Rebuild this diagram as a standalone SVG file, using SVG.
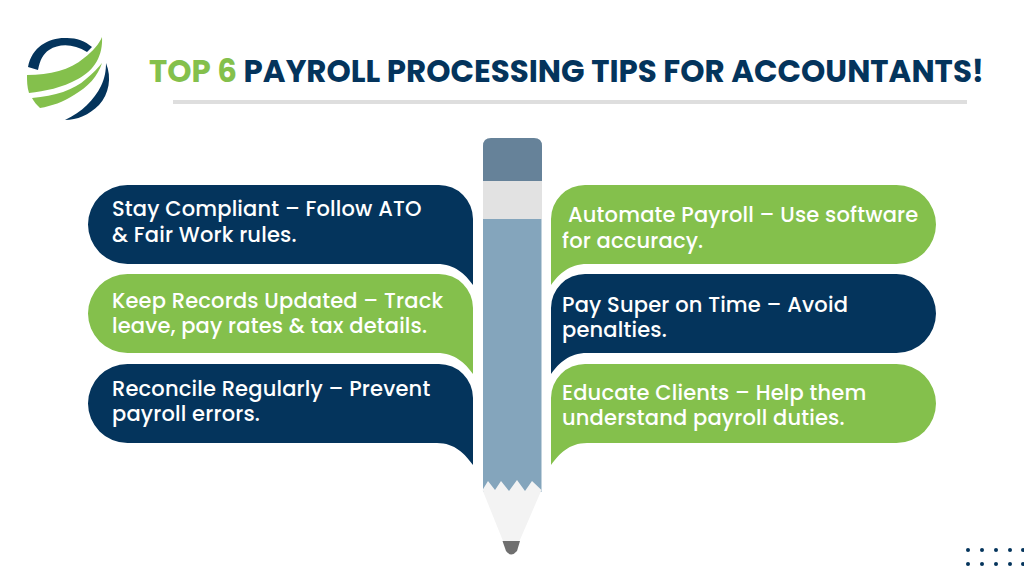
<svg xmlns="http://www.w3.org/2000/svg" width="1024" height="576" viewBox="0 0 1024 576">
<style>
.t{font-family:"Poppins","Inter","Noto Sans",sans-serif;font-size:21px;font-weight:500;letter-spacing:.17px;fill:#fff}
.navy{fill:#04345c}
.green{fill:#84c04c}
.h{font-family:"Poppins","Inter","Noto Sans",sans-serif;font-size:30.900px;font-weight:700}
</style>
<rect width="1024" height="576" fill="#fff"/>
<g id="logo">
<path class="navy" d="M28 67C32 46 50 37 67 38C77 38 85 41 92 47L87 52C74 44 60 43 49 50C43 54 40 60 38 70Z"/>
<path class="green" d="M27 75C50 75 70 70 84 58C93 51 99 44 102 37C103 55 95 70 78 79C62 88 45 91 29 93C27 87 27 81 27 75Z"/>
<path class="green" d="M32 98C55 96 74 90 86 79C93 73 98 68 102 63C98 76 88 87 74 95C63 102 52 106 40 108C37 105 34 102 32 98Z"/>
<path class="navy" d="M106 63C112 78 109 94 99 105C89 115 77 120 65 120C82 112 94 100 101 86C105 78 106 70 106 63Z"/>
</g>
<g id="title">
<text class="h" x="149" y="81.500" fill="#84c04c">TOP 6 <tspan fill="#04345c">PAYROLL PROCESSING TIPS FOR ACCOUNTANTS!</tspan></text>
<rect x="173" y="100" width="794" height="4" fill="#dedede"/>
</g>
<g id="pencil">
<path d="M483 181V146Q483 138 491 138H534Q542 138 542 146V181Z" fill="#668299"/>
<rect x="483" y="181" width="59" height="38" fill="#e2e2e2"/>
<path d="M483 219H541.500V492H483Z" fill="#84a5bc"/>
<path d="M482.500 490L488 481L495 490L501 481L509 491L517 480L525 491L532 481L541.500 490L519.500 541H503Z" fill="#f3f3f3"/>
<path d="M502.500 541H520L517 551Q511 558 506 551Z" fill="#6f6f6f"/>
</g>
<g id="tip-1">
<path class="navy" d="M127.500 185H439A34 34 0 0 1 473 219V285C465 274 455 264 437 264H127.500A39.500 39.500 0 0 1 127.500 185Z"/>
<text class="t" x="112" y="216">Stay Compliant – Follow ATO</text>
<text class="t" x="112" y="242">&amp; Fair Work rules.</text>
</g>
<g id="tip-2">
<path class="green" d="M127.500 274H439A34 34 0 0 1 473 308V374C465 363 455 353 437 353H127.500A39.500 39.500 0 0 1 127.500 274Z"/>
<text class="t" x="112" y="308">Keep Records Updated – Track</text>
<text class="t" x="112" y="333">leave, pay rates &amp; tax details.</text>
</g>
<g id="tip-3">
<path class="navy" d="M127.500 364H439A34 34 0 0 1 473 398V465C465 454 455 443 437 443H127.500A39.500 39.500 0 0 1 127.500 364Z"/>
<text class="t" x="112" y="396">Reconcile Regularly – Prevent</text>
<text class="t" x="112" y="421">payroll errors.</text>
</g>
<g id="tip-4">
<path class="green" d="M896.500 185H585A34 34 0 0 0 551 219V285C559 274 569 264 587 264H896.500A39.500 39.500 0 0 0 896.500 185Z"/>
<text class="t" x="568" y="222">Automate Payroll – Use software</text>
<text class="t" x="562" y="248">for accuracy.</text>
</g>
<g id="tip-5">
<path class="navy" d="M896.500 274H585A34 34 0 0 0 551 308V374C559 363 569 353 587 353H896.500A39.500 39.500 0 0 0 896.500 274Z"/>
<text class="t" x="562" y="312">Pay Super on Time – Avoid</text>
<text class="t" x="562" y="337">penalties.</text>
</g>
<g id="tip-6">
<path class="green" d="M896.500 364H585A34 34 0 0 0 551 398V465C559 454 569 443 587 443H896.500A39.500 39.500 0 0 0 896.500 364Z"/>
<text class="t" x="562" y="400">Educate Clients – Help them</text>
<text class="t" x="562" y="425">understand payroll duties.</text>
</g>
<g id="dots" fill="#04345c">
<circle cx="968" cy="550" r="2"/><circle cx="982" cy="550" r="2"/><circle cx="996" cy="550" r="2"/><circle cx="1010" cy="550" r="2"/><circle cx="1023" cy="550" r="2"/>
<circle cx="968" cy="564" r="2"/><circle cx="982" cy="564" r="2"/><circle cx="996" cy="564" r="2"/><circle cx="1010" cy="564" r="2"/><circle cx="1023" cy="564" r="2"/>
</g>
</svg>
